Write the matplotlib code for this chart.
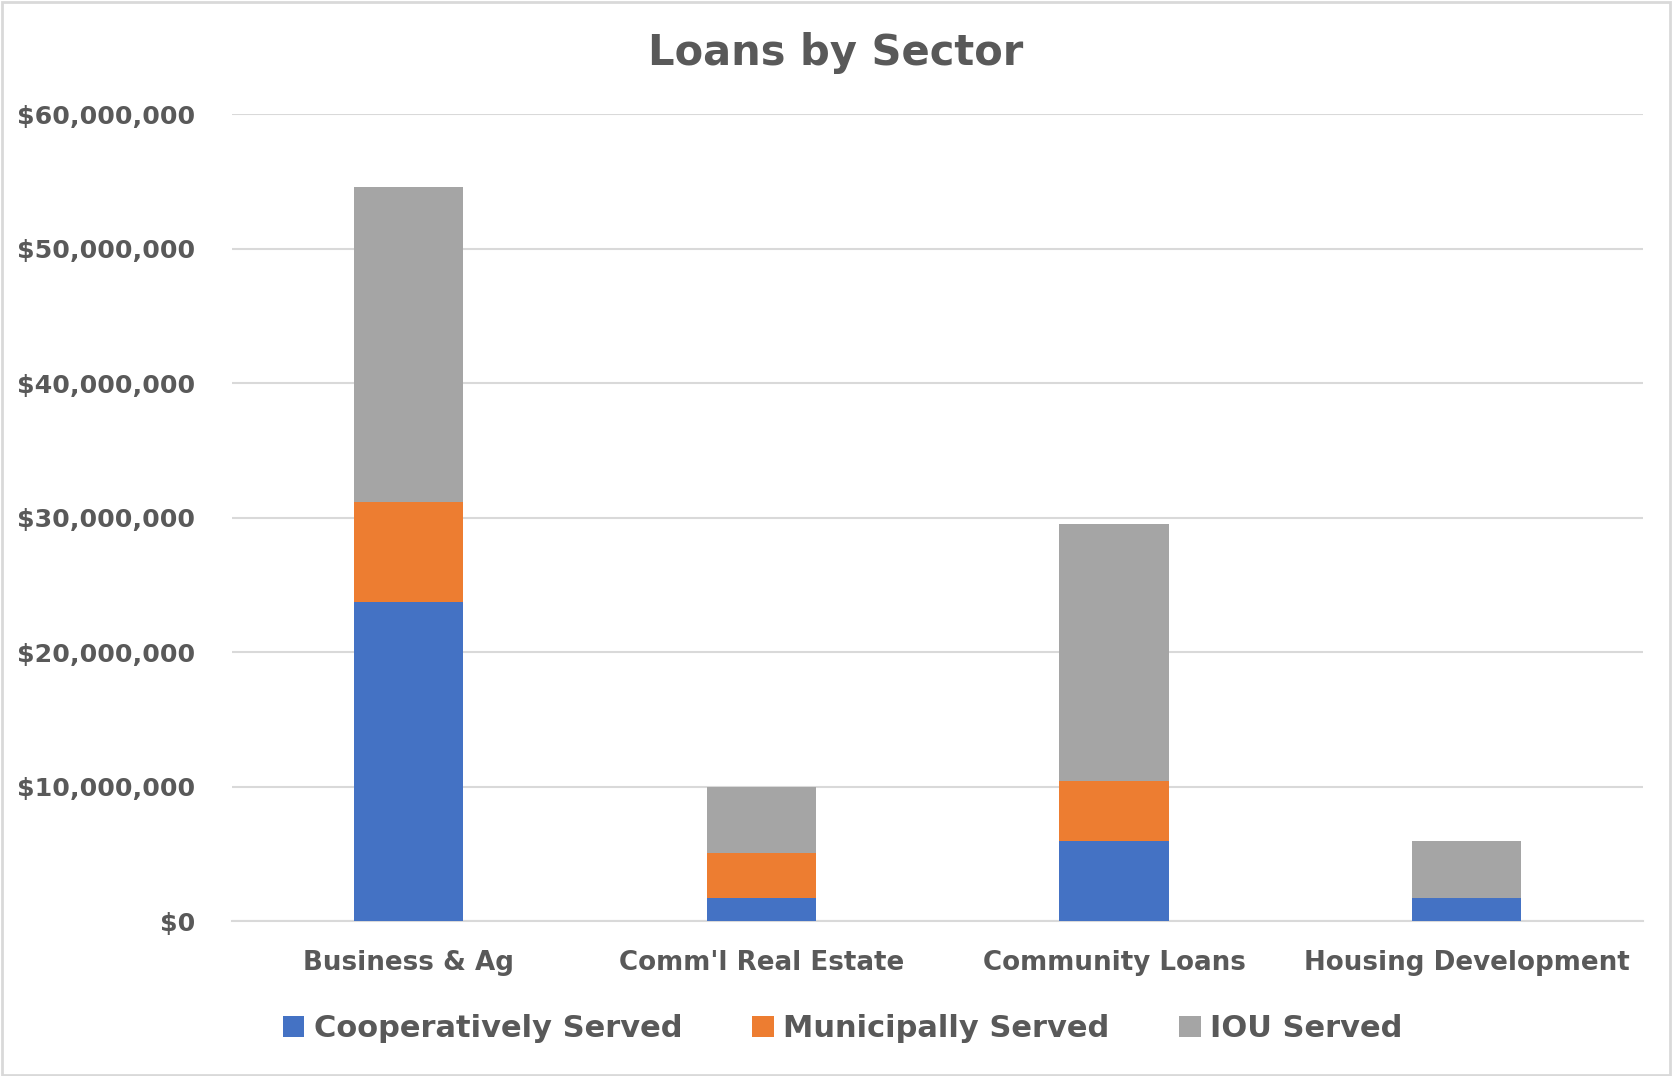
import matplotlib
matplotlib.use("Agg")
import matplotlib.pyplot as plt
from matplotlib.ticker import FuncFormatter, MultipleLocator
from matplotlib.patches import Rectangle
import numpy as np

categories = ["Business & Ag", "Comm'l Real Estate", "Community Loans", "Housing Development"]
cooperative = [23.7e6, 1.7e6, 5.95e6, 1.7e6]
municipal = [7.45e6, 3.4e6, 4.45e6, 0.0]
iou = [23.45e6, 4.85e6, 19.1e6, 4.25e6]
series_names = ["Cooperatively Served", "Municipally Served", "IOU Served"]
colors = ["#4472C4", "#ED7D31", "#A5A5A5"]

text_color = "#595959"
grid_color = "#D9D9D9"

fig = plt.figure(figsize=(16.72, 10.76), dpi=100)
ax = fig.add_axes([0.139, 0.1438, 0.9827 - 0.139, 0.894 - 0.1438])

x = np.arange(len(categories))
width = 0.31
b1 = ax.bar(x, cooperative, width, color=colors[0], label=series_names[0], zorder=3)
bottom2 = np.array(cooperative)
b2 = ax.bar(x, municipal, width, bottom=bottom2, color=colors[1], label=series_names[1], zorder=3)
bottom3 = bottom2 + np.array(municipal)
b3 = ax.bar(x, iou, width, bottom=bottom3, color=colors[2], label=series_names[2], zorder=3)

ax.set_xlim(-0.5, len(categories) - 0.5)
ax.set_ylim(0, 60e6)
ax.yaxis.set_major_locator(MultipleLocator(10e6))
ax.yaxis.set_major_formatter(FuncFormatter(lambda v, p: "${:,.0f}".format(v)))
ax.grid(axis="y", color=grid_color, linewidth=1.5, zorder=0)
for s in ["top", "right", "left"]:
    ax.spines[s].set_visible(False)
ax.spines["bottom"].set_color(grid_color)
ax.spines["bottom"].set_linewidth(1.5)

ax.set_xticks(x)
ax.set_xticklabels(categories)
ax.tick_params(axis="both", length=0, colors=text_color)
ax.tick_params(axis="y", pad=27)
ax.tick_params(axis="x", pad=21)
for lab in ax.get_yticklabels():
    lab.set_fontfamily("DejaVu Sans")
    lab.set_fontweight("bold")
    lab.set_fontsize(18.2)
    lab.set_color(text_color)
for lab in ax.get_xticklabels():
    lab.set_fontfamily("DejaVu Sans")
    lab.set_fontweight("bold")
    lab.set_fontsize(18.8)
    lab.set_color(text_color)

fig.text(0.5, 0.951, "Loans by Sector", ha="center", va="center",
         fontsize=30, fontweight="bold", color=text_color, family="DejaVu Sans")

leg = fig.legend(handles=[b1, b2, b3], labels=series_names, loc="center",
                 bbox_to_anchor=(0.504, 0.044), ncol=3, frameon=False,
                 prop={"family": "DejaVu Sans", "weight": "bold", "size": 22},
                 handlelength=0.7, handleheight=0.7, handletextpad=0.3, columnspacing=2.3)
for t in leg.get_texts():
    t.set_color(text_color)

fig.patches.append(Rectangle((0.001, 0.001), 0.998, 0.997, transform=fig.transFigure,
                             fill=False, edgecolor=grid_color, linewidth=2))

fig.savefig("out.png", dpi=100)
